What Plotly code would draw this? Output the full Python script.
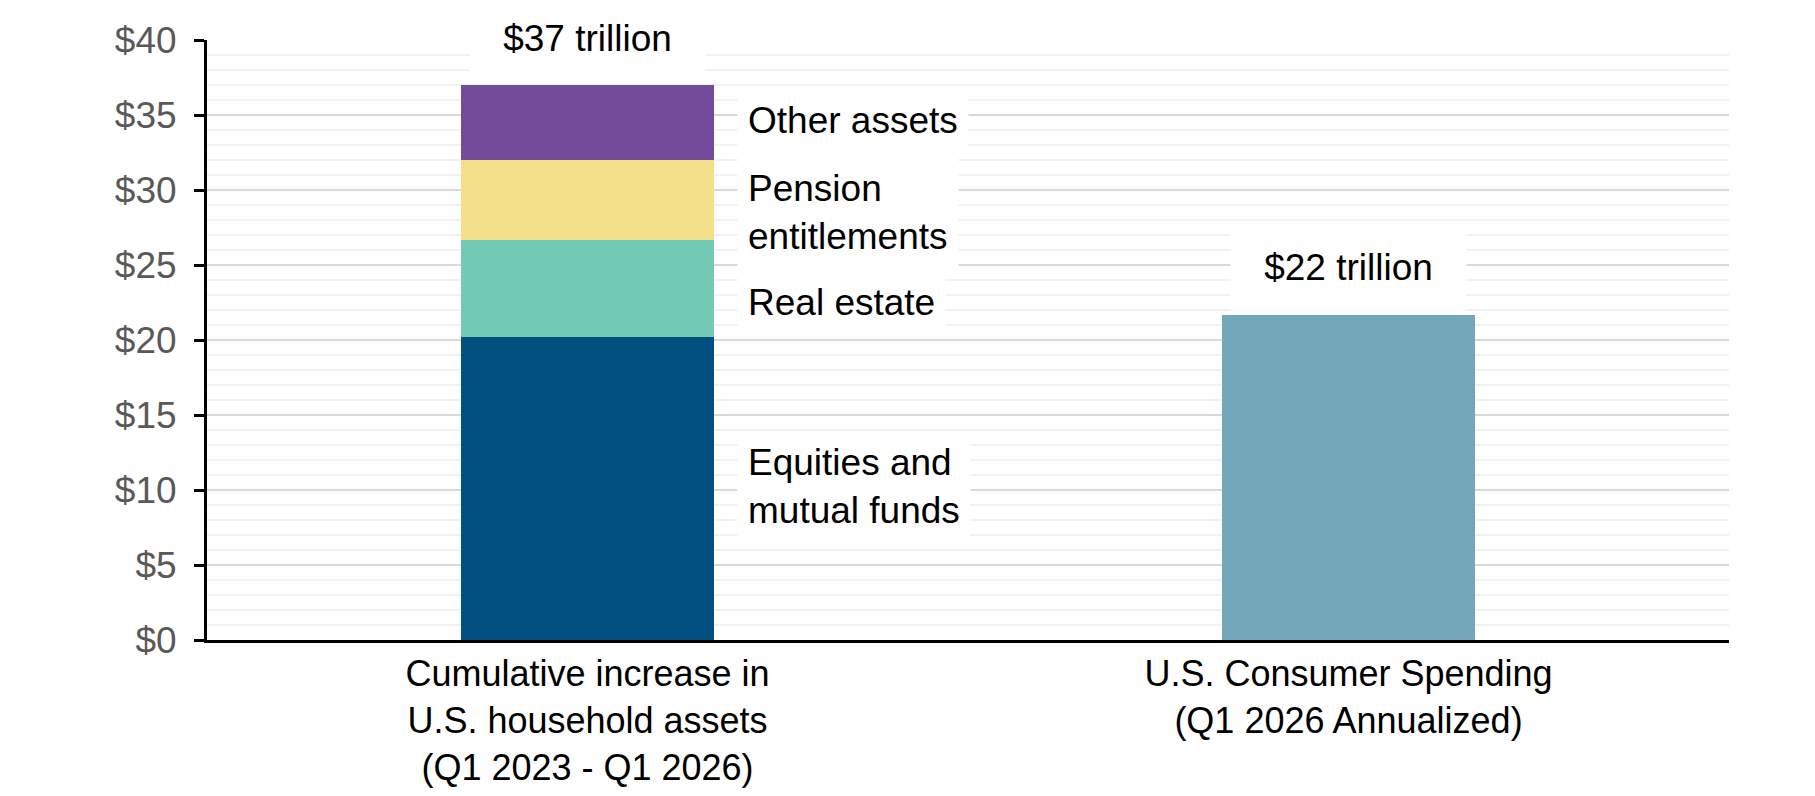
import plotly.graph_objects as go

# ---- data ----
categories = [
    "Cumulative increase in<br>U.S. household assets<br>(Q1 2023 - Q1 2026)",
    "U.S. Consumer Spending<br>(Q1 2026 Annualized)",
]
segment_names = ["Equities and<br>mutual funds", "Real estate", "Pension<br>entitlements", "Other assets"]
segment_values = [20.2, 6.5, 5.3, 5.0]          # $ trillions, stacked in first bar
consumer_spending = [21.7]                        # $ trillions, second bar
total_labels = ["$37 trillion", "$22 trillion"]
y_ticks = [0, 5, 10, 15, 20, 25, 30, 35, 40]
y_tick_text = ["$" + str(v) for v in y_ticks]

# ---- styles ----
seg_colors = ["#005180", "#74CBB5", "#F4E08A", "#744A9A"]
spend_color = "#75A7BB"
label_yshift = [2, -14, -13, 2]
FONT = "Arial, Liberation Sans, sans-serif"
FS = 37

fig = go.Figure()
for name, val, col in zip(segment_names, segment_values, seg_colors):
    fig.add_trace(go.Bar(x=[categories[0]], y=[val], name=name.replace("<br>", " "),
                         marker=dict(color=col, line=dict(width=0)), showlegend=False))
fig.add_trace(go.Bar(x=[categories[1]], y=consumer_spending, name="Consumer spending",
                     marker=dict(color=spend_color, line=dict(width=0)), showlegend=False))

# segment labels to the right of the stacked bar
cum = 0
for name, val, ys in zip(segment_names, segment_values, label_yshift):
    mid = cum + val / 2
    cum += val
    fig.add_annotation(x=categories[0], y=mid, xref="x", yref="y", text=name,
                       showarrow=False, xanchor="left", yanchor="middle", align="left",
                       xshift=127 + 22, yshift=ys, bgcolor="white", borderpad=10,
                       font=dict(family=FONT, size=FS, color="black"))

# totals above bars
totals = [sum(segment_values), consumer_spending[0]]
for cat, tot, txt in zip(categories, totals, total_labels):
    fig.add_annotation(x=cat, y=tot, xref="x", yref="y", text=txt, showarrow=False,
                       xanchor="center", yanchor="middle", yshift=47,
                       bgcolor="white", borderpad=17, width=201, height=51,
                       font=dict(family=FONT, size=FS, color="black"))

fig.update_layout(
    width=1815, height=796,
    margin=dict(l=207, r=86, t=40, b=156, pad=0, autoexpand=False),
    barmode="stack", bargap=0.667,
    plot_bgcolor="white", paper_bgcolor="white",
    font=dict(family=FONT, size=FS, color="black"),
)
fig.update_xaxes(
    showline=True, linecolor="black", linewidth=3, automargin=False,
    showgrid=False, ticks="", tickfont=dict(family=FONT, size=36, color="black"),
)
fig.update_yaxes(
    range=[0, 40], tickmode="array", tickvals=y_ticks, ticktext=y_tick_text,
    showline=True, linecolor="black", linewidth=3, automargin=False,
    ticks="outside", ticklen=10, tickwidth=3, tickcolor="black",
    ticklabelstandoff=10,
    tickfont=dict(family=FONT, size=FS, color="#595959"),
    showgrid=True, gridcolor="#d9d9d9", gridwidth=2,
    minor=dict(dtick=1, showgrid=True, gridcolor="#f2f2f2", gridwidth=2, ticks=""),
    zeroline=False,
)

fig.write_html("out.html")
